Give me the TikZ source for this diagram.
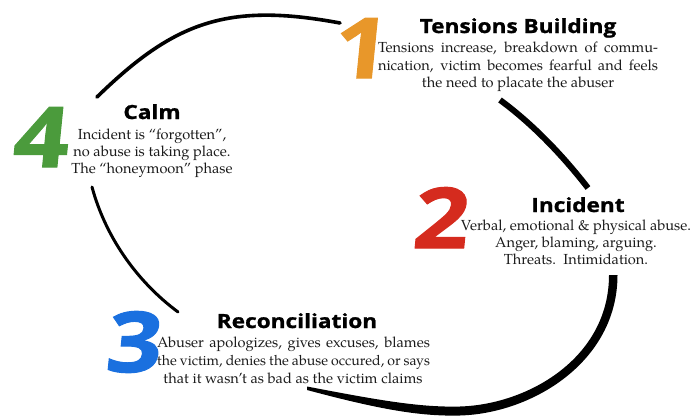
\documentclass[tikz,border=0pt]{standalone}
\usepackage{fontspec}
\newfontfamily\bodyf{texgyrepagella}[Extension=.otf,UprightFont=*-regular,BoldFont=*-bold]
\newfontfamily\headf{Open Sans}[BoldFeatures={FakeStretch=1.16,FakeBold=1.2}]
\definecolor{cOne}{HTML}{E8972A}
\definecolor{cTwo}{HTML}{D52B1E}
\definecolor{cThree}{HTML}{1A70DF}
\definecolor{cFour}{HTML}{4B9B3C}
\definecolor{ink}{HTML}{1A1A1A}
\begin{document}
\begin{tikzpicture}[x=1pt,y=1pt,
  digit/.style={anchor=base,inner sep=0pt,font=\headf\bfseries\fontsize{84}{84}\selectfont,xslant=0.1,transform shape},
  ttl/.style={anchor=base,inner sep=0pt,font=\headf\bfseries\fontsize{19.5}{20}\selectfont},
  body/.style={anchor=base,inner sep=0pt,text=ink,font=\bodyf\fontsize{14.6}{17}\selectfont},
  arc/.style={draw=black}]
\useasboundingbox (0,0) rectangle (696,-415);
% cycle arcs
\draw[arc,line width=3.6pt,line cap=round] (97,-97) .. controls (174,-22) and (227,-2) .. (340,-23);
\draw[arc,line width=6pt] (500,-100) .. controls (530,-122) and (560,-152) .. (588,-188);
\fill[black] (307,-390) .. controls (380,-409.5) and (420,-416.5) .. (460,-415.5)
   .. controls (532,-413.5) and (617.5,-362) .. (617.5,-275)
   -- (609,-275) .. controls (609,-358) and (528,-404.5) .. (460,-406.5)
   .. controls (420,-407.5) and (380,-400.5) .. (307,-386.5) -- cycle;
\draw[arc,line width=3pt,line cap=round] (92,-187) .. controls (105,-235) and (135,-280) .. (178,-312);
% digits
\node[digit,text=cOne] (d1) at (359,-78) {1};
\node[digit,text=cTwo] (d2) at (439,-248) {2};
\node[digit,text=cThree] (d3) at (132,-372) {3};
\node[digit,text=cFour] (d4) at (39,-167) {4};
% stage 1
\node[ttl] (h1) at (518,-33) {Tensions Building};
\node[body] (b1a) at (518,-52) {\makebox[280pt][s]{Tensions increase, breakdown of commu-}};
\node[body] (b1b) at (518,-70) {\makebox[280pt][s]{nication, victim becomes fearful and feels}};
\node[body] (b1c) at (518,-87.5) {the need to placate the abuser};
% stage 2
\node[ttl] (h2) at (578,-212) {Incident};
\node[body] (b2a) at (576,-230) {Verbal, emotional \& physical abuse.};
\node[body] (b2b) at (576,-247) {Anger, blaming, arguing.};
\node[body] (b2c) at (576,-264) {Threats.\ \ Intimidation.};
% stage 3
\node[ttl] (h3) at (297,-328) {Reconciliation};
\node[body] (b3a) at (293.5,-347) {\makebox[273pt][s]{Abuser apologizes, gives excuses, blames}};
\node[body,font=\bodyf\fontsize{14.1}{17}\selectfont] (b3b) at (293.5,-365) {\makebox[273pt][s]{the victim, denies the abuse occured, or says}};
\node[body] (b3c) at (293,-383) {that it wasn’t as bad as the victim claims};
% stage 4
\node[ttl] (h4) at (152,-119) {Calm};
\node[body] (b4a) at (152,-139) {Incident is “forgotten”,};
\node[body] (b4b) at (152,-156) {no abuse is taking place.};
\node[body] (b4c) at (152,-173) {The “honeymoon” phase};
\end{tikzpicture}
\end{document}
